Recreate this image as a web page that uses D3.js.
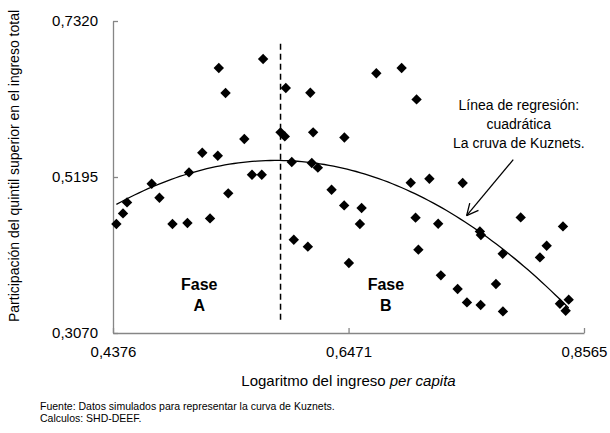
<!DOCTYPE html>
<html>
<head>
<meta charset="utf-8">
<script src="https://cdn.jsdelivr.net/npm/d3@7"></script>
<style>
  body { margin: 0; background: #fff; }
  text { font-family: "Liberation Sans", Arial, sans-serif; fill: #000; }
</style>
</head>
<body>
<svg id="chart" width="610" height="433"></svg>
<script>
// tick values and their labels (comma decimals like the source)
const xTicks = [0.4376, 0.6471, 0.8565];
const xTickLabels = ["0,4376", "0,6471", "0,8565"];
const yTicks = [0.3070, 0.5195, 0.7320];
const yTickLabels = ["0,3070", "0,5195", "0,7320"];

// simulated observations (log income per capita, top quintile share)
const logIncome = [
  0.4406, 0.4465, 0.4501, 0.4720, 0.4789, 0.4905, 0.5038, 0.5052, 0.5170, 0.5239,
  0.5308, 0.5317, 0.5377, 0.5401, 0.5544, 0.5612, 0.5699, 0.5711, 0.5866, 0.5904,
  0.5913, 0.5966, 0.5984, 0.6109, 0.6131, 0.6144, 0.6156, 0.6198, 0.6320, 0.6434,
  0.6432, 0.6474, 0.6572, 0.6587, 0.6718, 0.6943, 0.7024, 0.7067, 0.7076, 0.7092,
  0.7190, 0.7268, 0.7292, 0.7441, 0.7486, 0.7524, 0.7639, 0.7648, 0.7646, 0.7782,
  0.7842, 0.7844, 0.8002, 0.8173, 0.8233, 0.8351, 0.8378, 0.8402, 0.8429
];
const topShare = [
  0.4555, 0.4699, 0.4849, 0.5104, 0.4913, 0.4555, 0.4568, 0.5258, 0.5526, 0.4631,
  0.5485, 0.6680, 0.6339, 0.4972, 0.5713, 0.5226, 0.5226, 0.6802, 0.5803, 0.5748,
  0.6407, 0.5399, 0.4341, 0.4246, 0.6343, 0.5386, 0.5803, 0.5322, 0.5022, 0.5734,
  0.4808, 0.4024, 0.4555, 0.4773, 0.6609, 0.6680, 0.5117, 0.4641, 0.6252, 0.4205,
  0.5172, 0.4559, 0.3855, 0.3669, 0.5113, 0.3487, 0.4454, 0.4405, 0.3451, 0.3737,
  0.4150, 0.3364, 0.4645, 0.4100, 0.4259, 0.3469, 0.4522, 0.3374, 0.3524
];

// phase split and its vertical extent
const phaseSplit = 0.5866;
const phaseSpan = [0.3251, 0.7011];

const svg = d3.select("#chart");
const mLeft = 113, mRight = 584, mTop = 21, mBottom = 333;

const x = d3.scaleLinear().domain([xTicks[0], xTicks[2]]).range([mLeft, mRight]);
const y = d3.scaleLinear().domain([yTicks[0], yTicks[2]]).range([mBottom, mTop]);

// quadratic least squares fit
function quadFit(xs, ys) {
  const mx = d3.mean(xs);
  let s = Array(5).fill(0), t = Array(3).fill(0);
  xs.forEach((xv, i) => {
    const u = xv - mx;
    for (let k = 0; k < 5; k++) s[k] += Math.pow(u, k);
    for (let k = 0; k < 3; k++) t[k] += ys[i] * Math.pow(u, k);
  });
  const A = [[s[0], s[1], s[2], t[0]], [s[1], s[2], s[3], t[1]], [s[2], s[3], s[4], t[2]]];
  for (let i = 0; i < 3; i++) {
    for (let j = i + 1; j < 3; j++) {
      const f = A[j][i] / A[i][i];
      for (let k = i; k < 4; k++) A[j][k] -= f * A[i][k];
    }
  }
  const c = [0, 0, 0];
  for (let i = 2; i >= 0; i--) {
    let v = A[i][3];
    for (let k = i + 1; k < 3; k++) v -= A[i][k] * c[k];
    c[i] = v / A[i][i];
  }
  return xv => c[0] + c[1] * (xv - mx) + c[2] * (xv - mx) * (xv - mx);
}
const fit = quadFit(logIncome, topShare);

// axes
const axisColor = "#868686";
const yAxis = d3.axisLeft(y).tickValues(yTicks)
  .tickFormat((d, i) => yTickLabels[i]).tickSizeInner(-5).tickSizeOuter(0).tickPadding(15);
const xAxis = d3.axisBottom(x).tickValues(xTicks)
  .tickFormat((d, i) => xTickLabels[i]).tickSizeInner(-5).tickSizeOuter(0).tickPadding(13);

const gy = svg.append("g").attr("transform", `translate(${mLeft},0)`).call(yAxis);
const gx = svg.append("g").attr("transform", `translate(0,${mBottom})`).call(xAxis);
[gx, gy].forEach(g => {
  g.select(".domain").attr("stroke", axisColor).attr("stroke-width", 1.3);
  g.selectAll(".tick line").attr("stroke", axisColor).attr("stroke-width", 1.3);
  g.selectAll(".tick text").style("font-size", "15px")
    .style("font-family", '"Liberation Sans", Arial, sans-serif').attr("fill", "#000");
});

// dashed split line
svg.append("line")
  .attr("x1", x(phaseSplit)).attr("x2", x(phaseSplit))
  .attr("y1", y(phaseSpan[1])).attr("y2", y(phaseSpan[0]))
  .attr("stroke", "#000").attr("stroke-width", 1.5).attr("stroke-dasharray", "6,4");

// regression curve
const [xMin, xMax] = d3.extent(logIncome);
const curvePts = d3.range(0, 101).map(i => xMin + (xMax - xMin) * i / 100);
svg.append("path")
  .datum(curvePts)
  .attr("fill", "none").attr("stroke", "#000").attr("stroke-width", 1.3)
  .attr("d", d3.line().x(d => x(d)).y(d => y(fit(d))));

// diamonds
svg.append("g").selectAll("path")
  .data(logIncome)
  .enter()
  .append("path")
  .attr("d", d3.symbol().type(d3.symbolSquare).size(54))
  .attr("transform", (d, i) => `translate(${x(d)},${y(topShare[i])}) rotate(45)`)
  .attr("fill", "#000");

// phase labels
const phases = [{ t: "A", xv: 0.5143 }, { t: "B", xv: 0.6803 }];
phases.forEach(p => {
  const t = svg.append("text").attr("text-anchor", "middle")
    .style("font-size", "16px").style("font-weight", "bold");
  t.append("tspan").attr("x", x(p.xv)).attr("y", y(0.3656)).text("Fase");
  t.append("tspan").attr("x", x(p.xv)).attr("y", y(0.3370)).text(p.t);
});

// annotation
const noteLines = ["Línea de regresión:", "cuadrática", "La cruva de Kuznets."];
const note = svg.append("text").attr("text-anchor", "middle").style("font-size", "14px");
noteLines.forEach((l, i) => {
  note.append("tspan").attr("x", x(0.7985)).attr("y", y(0.6108) + i * 19).text(l);
});
const arrowFrom = [0.7936, 0.5431], arrowTo = [0.7521, 0.4668];
const ax1 = x(arrowFrom[0]), ay1 = y(arrowFrom[1]), ax2 = x(arrowTo[0]), ay2 = y(arrowTo[1]);
svg.append("line").attr("x1", ax1).attr("y1", ay1).attr("x2", ax2).attr("y2", ay2)
  .attr("stroke", "#000").attr("stroke-width", 1.3);
const ang = Math.atan2(ay2 - ay1, ax2 - ax1);
const headLen = 13;
[-0.45, 0.45].forEach(da => {
  svg.append("line").attr("x1", ax2).attr("y1", ay2)
    .attr("x2", ax2 - headLen * Math.cos(ang + da)).attr("y2", ay2 - headLen * Math.sin(ang + da))
    .attr("stroke", "#000").attr("stroke-width", 1.3);
});

// axis titles
const xt = svg.append("text").attr("text-anchor", "middle")
  .attr("x", (mLeft + mRight) / 2).attr("y", 386).style("font-size", "15px");
xt.append("tspan").text("Logaritmo del ingreso ");
xt.append("tspan").style("font-style", "italic").text("per capita");

svg.append("text").attr("text-anchor", "middle")
  .attr("transform", "translate(19,166) rotate(-90)").style("font-size", "14px")
  .text("Participación del quintil superior en el ingreso total");

// footer
svg.append("text").attr("x", 40).attr("y", 410).style("font-size", "10.5px")
  .text("Fuente: Datos simulados para representar la curva de Kuznets.");
svg.append("text").attr("x", 40).attr("y", 422).style("font-size", "10.5px")
  .text("Calculos: SHD-DEEF.");
</script>
</body>
</html>
